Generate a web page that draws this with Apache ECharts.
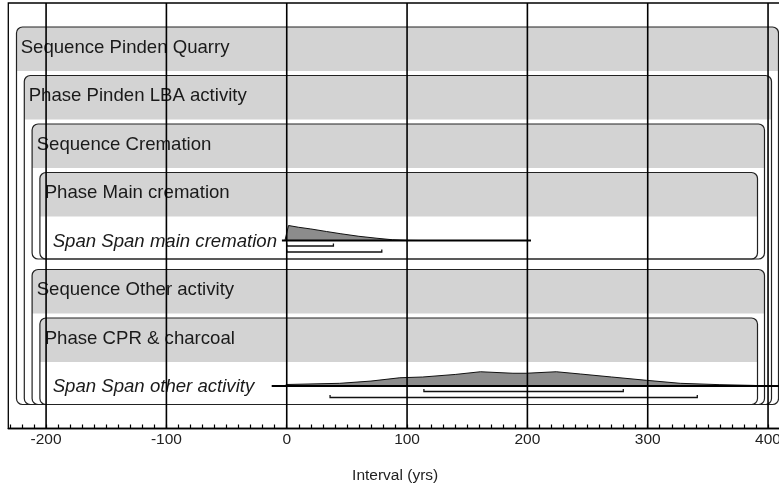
<!DOCTYPE html>
<html><head><meta charset="utf-8">
<script src="https://cdn.jsdelivr.net/npm/echarts@6/dist/echarts.min.js"></script>
<style>html,body{margin:0;padding:0;background:#fff}#c{width:779px;height:491px}</style>
</head><body><div id="c"></div>
<script>
// ---- Data ----
const rowLabels = ["Sequence Pinden Quarry","Phase Pinden LBA activity","Sequence Cremation","Phase Main cremation","Span Span main cremation","Sequence Other activity","Phase CPR & charcoal","Span Span other activity"];
const rowDepth = [0,1,2,3,4,2,3,4];
const rowItalic = [false,false,false,false,true,false,false,true];
// grouping boxes
const boxFirstRow = [0,1,2,3,5,6];
const boxLastRow  = [7,7,4,4,7,7];
const boxDepth    = [0,1,2,3,2,3];
// span distributions (relative probability, peak = 1)
const spanRows = [4,7];
const mainCremationX = [-1.5,1.5,10,20,33,45,60,75,88,100,110];
const mainCremationP = [0,1,0.88,0.77,0.6,0.45,0.28,0.15,0.05,0.01,0];
const otherActivityX = [-2,0,44,70,94,113,140,161,188,199,224,244,270,299,327,360,388,400];
const otherActivityP = [0,0.1,0.18,0.33,0.55,0.6,0.77,0.95,0.85,0.85,0.95,0.8,0.6,0.38,0.18,0.09,0.04,0];
const spanXs = [mainCremationX, otherActivityX];
const spanPs = [mainCremationP, otherActivityP];
const spanLineFrom = [-4,-12.5];
const spanLineTo   = [203,430];
const range68From = [0,114];
const range68To   = [38.8,279.7];
const range95From = [0,36];
const range95To   = [79,341.2];
// axis ticks
const majorTicks = [-200,-100,0,100,200,300,400];
const minorTicks = [];
for (let v = -230; v <= 410; v += 10) minorTicks.push(v);

// ---- Chart ----
const FONT = 'Liberation Sans, Arial, sans-serif';
const chart = echarts.init(document.getElementById('c'), null, {renderer:'canvas'});

function rowTop(api, r){ return api.coord([0, r])[1]; }

const boxSeries = {
  type:'custom', z:2, silent:true, clip:false,
  data: boxFirstRow.map((r,i)=>[i]),
  renderItem(params, api){
    const i = params.dataIndex, d = boxDepth[i], cs = params.coordSys;
    const top = rowTop(api, boxFirstRow[i]);
    const bottom = rowTop(api, boxLastRow[i] + 1) - 10.5;
    const left = cs.x + 8.2 + 7.8*d;
    const right = cs.x + cs.width - 3.5 - 7*d;
    return {type:'group', children:[
      {type:'rect', shape:{x:left,y:top,width:right-left,height:44,r:[6,6,0,0]}, style:{fill:'#d3d3d3'}},
      {type:'rect', shape:{x:left,y:top,width:right-left,height:bottom-top,r:6}, style:{fill:'none', stroke:'#222', lineWidth:1.2}}
    ]};
  }
};

const labelSeries = {
  type:'custom', z:3, silent:true, clip:false,
  data: rowLabels.map((t,i)=>[i]),
  renderItem(params, api){
    const i = params.dataIndex, cs = params.coordSys;
    return {type:'text', style:{
      text: rowLabels[i], x: cs.x + 12.4 + 8*rowDepth[i], y: rowTop(api, i) + 20.5,
      verticalAlign:'middle', align:'left', fill:'#1a1a1a',
      font: (rowItalic[i] ? 'italic ' : '') + '18.6px ' + FONT
    }};
  }
};

const spanSeries = {
  type:'custom', z:4, silent:true, clip:true,
  data: spanRows.map((r,i)=>[i]),
  renderItem(params, api){
    const i = params.dataIndex;
    const base = rowTop(api, spanRows[i]) + 19.5;
    const xs = spanXs[i], ps = spanPs[i];
    const pts = xs.map((x,k)=>[api.coord([x,0])[0], base - ps[k]*15]);
    pts.push([api.coord([xs[xs.length-1],0])[0], base]);
    pts.unshift([api.coord([xs[0],0])[0], base]);
    const X = v => api.coord([v,0])[0];
    const bracket = (a,b,y) => ({type:'polyline', shape:{points:[[X(a),y-2.5],[X(a),y],[X(b),y],[X(b),y-2.5]]}, style:{fill:null, stroke:'#111', lineWidth:1.3}});
    return {type:'group', children:[
      {type:'polygon', shape:{points:pts}, style:{fill:'#8c8c8c', stroke:'#111', lineWidth:1}},
      {type:'line', shape:{x1:X(spanLineFrom[i]), y1:base, x2:X(spanLineTo[i]), y2:base}, style:{stroke:'#000', lineWidth:1.8}},
      bracket(range68From[i], range68To[i], base+5.5),
      bracket(range95From[i], range95To[i], base+11.5)
    ]};
  }
};

const gridLineSeries = {
  type:'custom', z:10, silent:true, clip:false,
  data: majorTicks.map(v=>[v]),
  renderItem(params, api){
    const cs = params.coordSys;
    const x = api.coord([api.value(0), 0])[0];
    return {type:'line', shape:{x1:x, y1:cs.y, x2:x, y2:cs.y+cs.height}, style:{stroke:'#000', lineWidth:1.6}};
  }
};

chart.setOption({
  animation:false,
  backgroundColor:'#fff',
  grid:{left:8.3, top:3, width:773.7, height:425.5, show:true, borderColor:'#000', borderWidth:1.3, backgroundColor:'transparent', containLabel:false, outerBoundsMode:'none'},
  xAxis:{
    type:'value', min:-231.4, max:411.6,
    name:'Interval (yrs)', nameLocation:'middle', nameGap:39,
    nameTextStyle:{fontFamily:FONT, fontSize:15.5, color:'#222'},
    axisLine:{show:true, onZero:false, lineStyle:{color:'#000', width:1.3}},
    axisTick:{show:true, inside:true, length:4, customValues:minorTicks, lineStyle:{color:'#000', width:1.2}},
    axisLabel:{show:true, customValues:majorTicks, fontFamily:FONT, fontSize:15.5, color:'#222', margin:3},
    splitLine:{show:false}
  },
  yAxis:{type:'value', min:-0.4948, max:8.278, inverse:true, show:false, splitLine:{show:false}},
  series:[boxSeries, labelSeries, spanSeries, gridLineSeries]
});
</script></body></html>
